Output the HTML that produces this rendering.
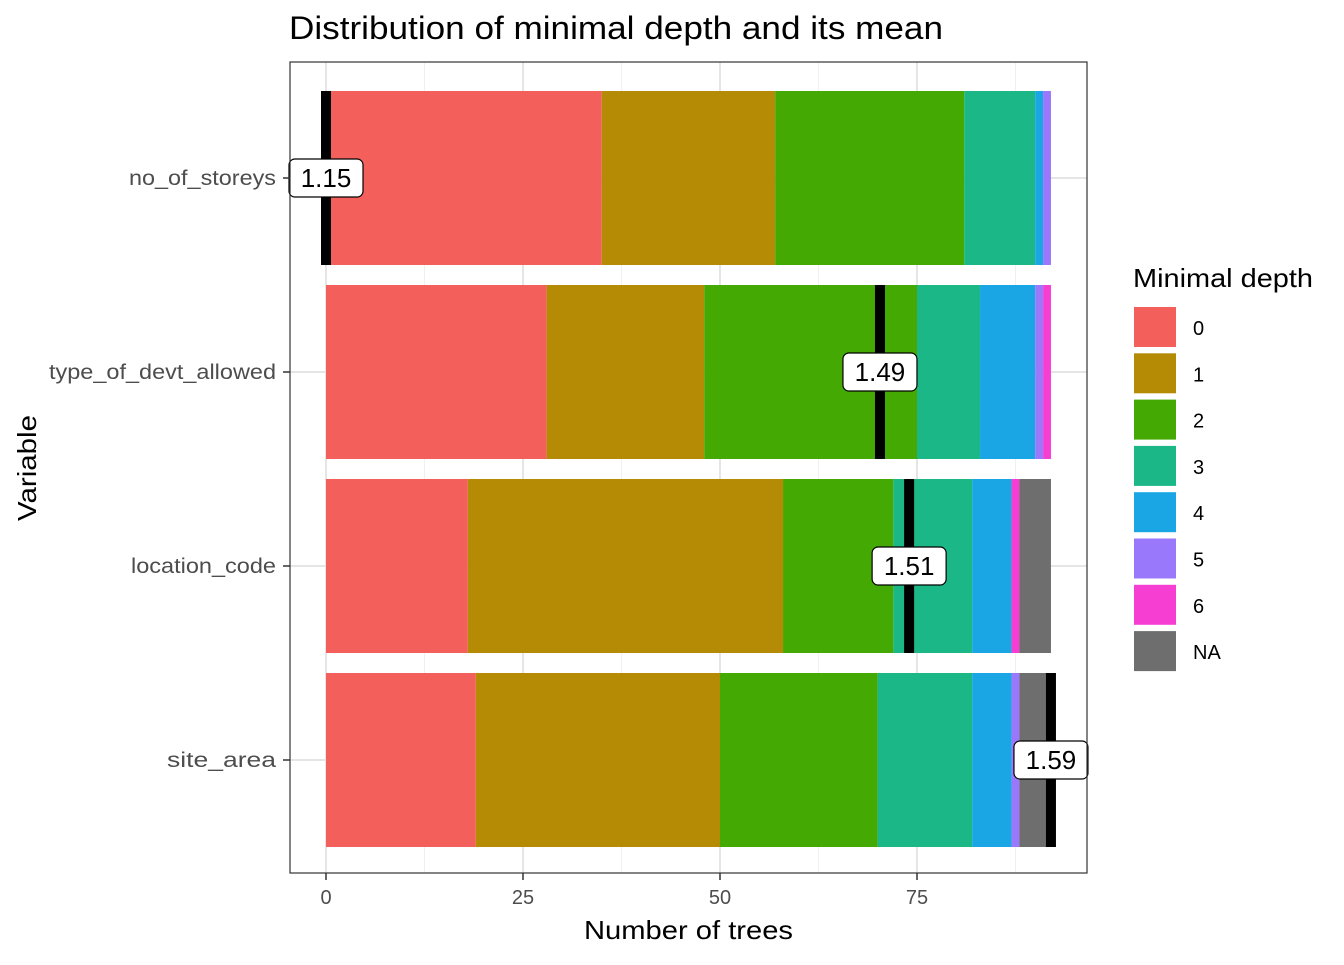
<!DOCTYPE html>
<html><head><meta charset="utf-8"><style>
body{margin:0;background:#fff;font-family:"Liberation Sans",Arial,sans-serif;}
</style></head><body>
<svg id="c" width="1344" height="960" xmlns="http://www.w3.org/2000/svg" font-family="Liberation Sans, Arial, sans-serif">
<rect width="1344" height="960" fill="#fff"/>
</svg>
<script>
const variables=["no_of_storeys","type_of_devt_allowed","location_code","site_area"];
const depthLevels=["0","1","2","3","4","5","6","NA"];
const counts0=[35,22,24,9,1,1,0,0];
const counts1=[28,20,27,8,7,1,1,0];
const counts2=[18,40,14,10,5,0,1,4];
const counts3=[19,31,20,12,5,1,0,4];
const meanValues=[1.15,1.49,1.51,1.59];
const meanPositions=[0,70.3,74,92];
const xTicks=[0,25,50,75];
const allCounts=[counts0,counts1,counts2,counts3];
const fill=["#F35F5B","#B58B06","#44A902","#1BB787","#1AA6E4","#9A78FB","#F63ED2","#6E6E6E"];
const labelWidths=[147,227,145,109];
const svg=document.getElementById('c');
const NS='http://www.w3.org/2000/svg';
const PL=290,PR=1087,PT=62,PB=873;
const x=v=>326+v*7.88;
const yC=i=>178+i*194;
const BH=174;
function mk(t,a,p){const e=document.createElementNS(NS,t);for(const k in a)e.setAttribute(k,a[k]);(p||svg).appendChild(e);return e;}
for(let v=12.5;v<100;v+=25){const g=mk('line',{x1:x(v),x2:x(v),y1:PT,y2:PB,stroke:'#f0f0f0','stroke-width':1});

}
xTicks.forEach(v=>{const g=mk('line',{x1:x(v),x2:x(v),y1:PT,y2:PB,stroke:'#e5e5e5','stroke-width':2});

});
variables.forEach((n,i)=>{const g=mk('line',{x1:PL,x2:PR,y1:yC(i),y2:yC(i),stroke:'#e5e5e5','stroke-width':2});

});
variables.forEach((n,i)=>{let cum=0;allCounts[i].forEach((c,j)=>{if(c>0){const r=mk('rect',{x:x(cum),y:yC(i)-BH/2,width:x(cum+c)-x(cum),height:BH,fill:fill[j]});

}cum+=c;});});
variables.forEach((n,i)=>{const m=mk('rect',{x:x(meanPositions[i])-5,y:yC(i)-BH/2,width:10,height:BH,fill:'#000'});


const cx=x(meanPositions[i]);
const g=mk('g',{});


mk('rect',{x:cx-37,y:yC(i)-19,width:74,height:38,rx:6,fill:'#fff',stroke:'#000','stroke-width':1.2},g);
const t=mk('text',{x:cx,y:yC(i)+9,'text-anchor':'middle','font-size':26,fill:'#000'},g);t.textContent=meanValues[i].toFixed(2);});
const pb=mk('rect',{x:PL,y:PT,width:PR-PL,height:PB-PT,fill:'none',stroke:'#333','stroke-width':1.2});


xTicks.forEach(v=>{mk('line',{x1:x(v),x2:x(v),y1:PB,y2:PB+7,stroke:'#333','stroke-width':1.5});
const t=mk('text',{x:x(v),y:PB+31,'text-anchor':'middle','font-size':20,fill:'#4d4d4d'});t.textContent=v;

});
variables.forEach((n,i)=>{mk('line',{x1:PL-7,x2:PL,y1:yC(i),y2:yC(i),stroke:'#333','stroke-width':1.5});
const t=mk('text',{x:276-labelWidths[i],y:yC(i)+7,'font-size':21,fill:'#4d4d4d',textLength:labelWidths[i],lengthAdjust:'spacingAndGlyphs'});t.textContent=n;

});
let t=mk('text',{x:289,y:39,'font-size':32,fill:'#000',textLength:654,lengthAdjust:'spacingAndGlyphs'});t.textContent='Distribution of minimal depth and its mean';

t=mk('text',{x:584,y:939,'font-size':26,fill:'#000',textLength:209,lengthAdjust:'spacingAndGlyphs'});t.textContent='Number of trees';

t=mk('text',{x:36,y:521,'font-size':26,fill:'#000',transform:'rotate(-90 36 521)',textLength:106,lengthAdjust:'spacingAndGlyphs'});t.textContent='Variable';

t=mk('text',{x:1133,y:287,'font-size':26,fill:'#000',textLength:180,lengthAdjust:'spacingAndGlyphs'});t.textContent='Minimal depth';

depthLevels.forEach((d,j)=>{const y=307+j*46.3;const r=mk('rect',{x:1134,y:y,width:42,height:40,fill:fill[j]});

const tt=mk('text',{x:1193,y:y+28,'font-size':20,fill:'#000'});tt.textContent=d;
});
</script>
</body></html>
